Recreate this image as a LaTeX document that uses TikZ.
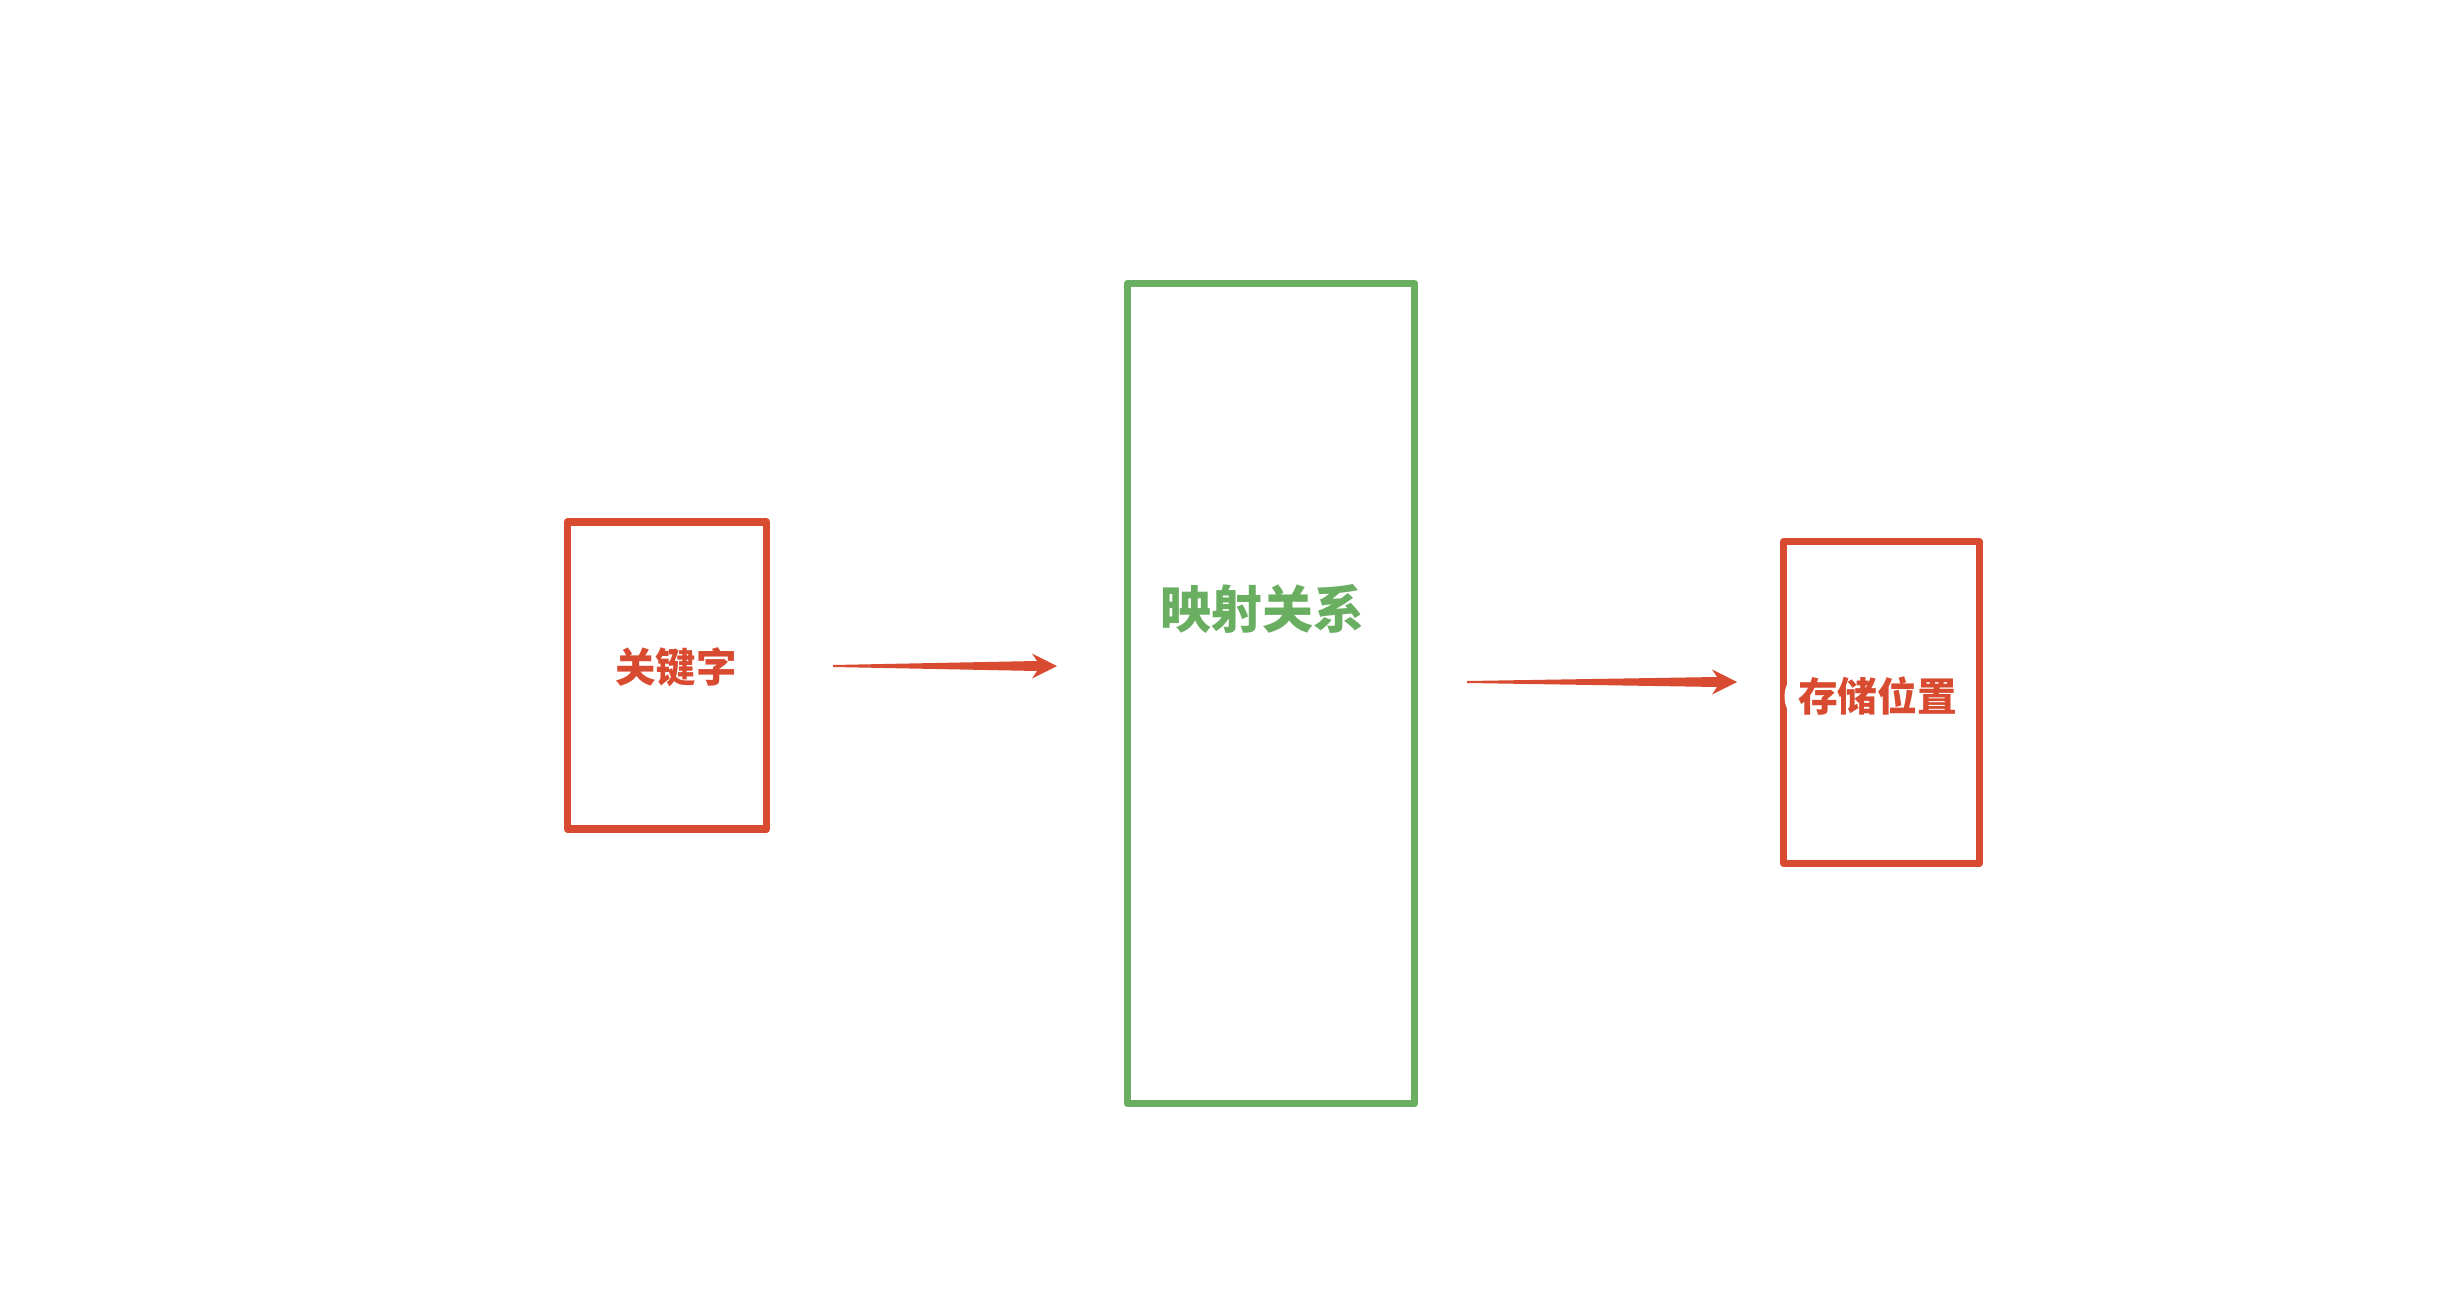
\documentclass[tikz,border=0pt]{standalone}
\usepackage{fontspec}
\newfontfamily\cjk{Noto Sans CJK SC}
\usetikzlibrary{calc}
\definecolor{keyred}{HTML}{D84B30}
\definecolor{mapgreen}{HTML}{6AAE62}

\begin{document}
\begin{tikzpicture}[x=0.01cm,y=-0.01cm,
    box/.style={draw,line width=2.1pt,line join=round,inner sep=0pt},
    boxtext/.style={font=\cjk\bfseries\fontsize{#1}{#1}\selectfont,inner sep=0pt}]
      \useasboundingbox (0,0) rectangle (2456,1306);

      % boxes
      \node[box,keyred,minimum width=1.99cm,minimum height=3.07cm] (key) at (667,675.5) {};
      \node[box,mapgreen,minimum width=2.87cm,minimum height=8.2cm] (map) at (1271,693.5) {};
      \node[box,keyred,minimum width=1.955cm,minimum height=3.215cm] (pos) at (1881.5,702.5) {};

      % texts
      \node[boxtext=11.5pt,text=keyred] (keytext) at (676,667) {关键字};
      \node[boxtext=14.5pt,text=mapgreen] (maptext) at (1262.5,609) {映射关系};
      \node[boxtext=11.3pt,text=keyred,fill=white,rounded corners=8pt,inner xsep=3.8pt,inner ysep=2.8pt] (postext) at (1877.5,696.5) {存储位置};

      % arrows
      \coordinate (t1) at (833,666);
      \coordinate (h1) at (1057,666);
      \coordinate (t2) at (1467,682);
      \coordinate (h2) at (1737,682);

      \fill[keyred] ($(t1)+(0,-1)$) -- ($(h1)+(-20,-5)$) -- ($(h1)+(-25,-12.5)$) -- (h1)
        -- ($(h1)+(-25,12.5)$) -- ($(h1)+(-20,5)$) -- ($(t1)+(0,1)$) -- cycle;
      \fill[keyred] ($(t2)+(0,-1)$) -- ($(h2)+(-20,-5)$) -- ($(h2)+(-25,-12.5)$) -- (h2)
        -- ($(h2)+(-25,12.5)$) -- ($(h2)+(-20,5)$) -- ($(t2)+(0,1)$) -- cycle;
    \end{tikzpicture}
\end{document}
